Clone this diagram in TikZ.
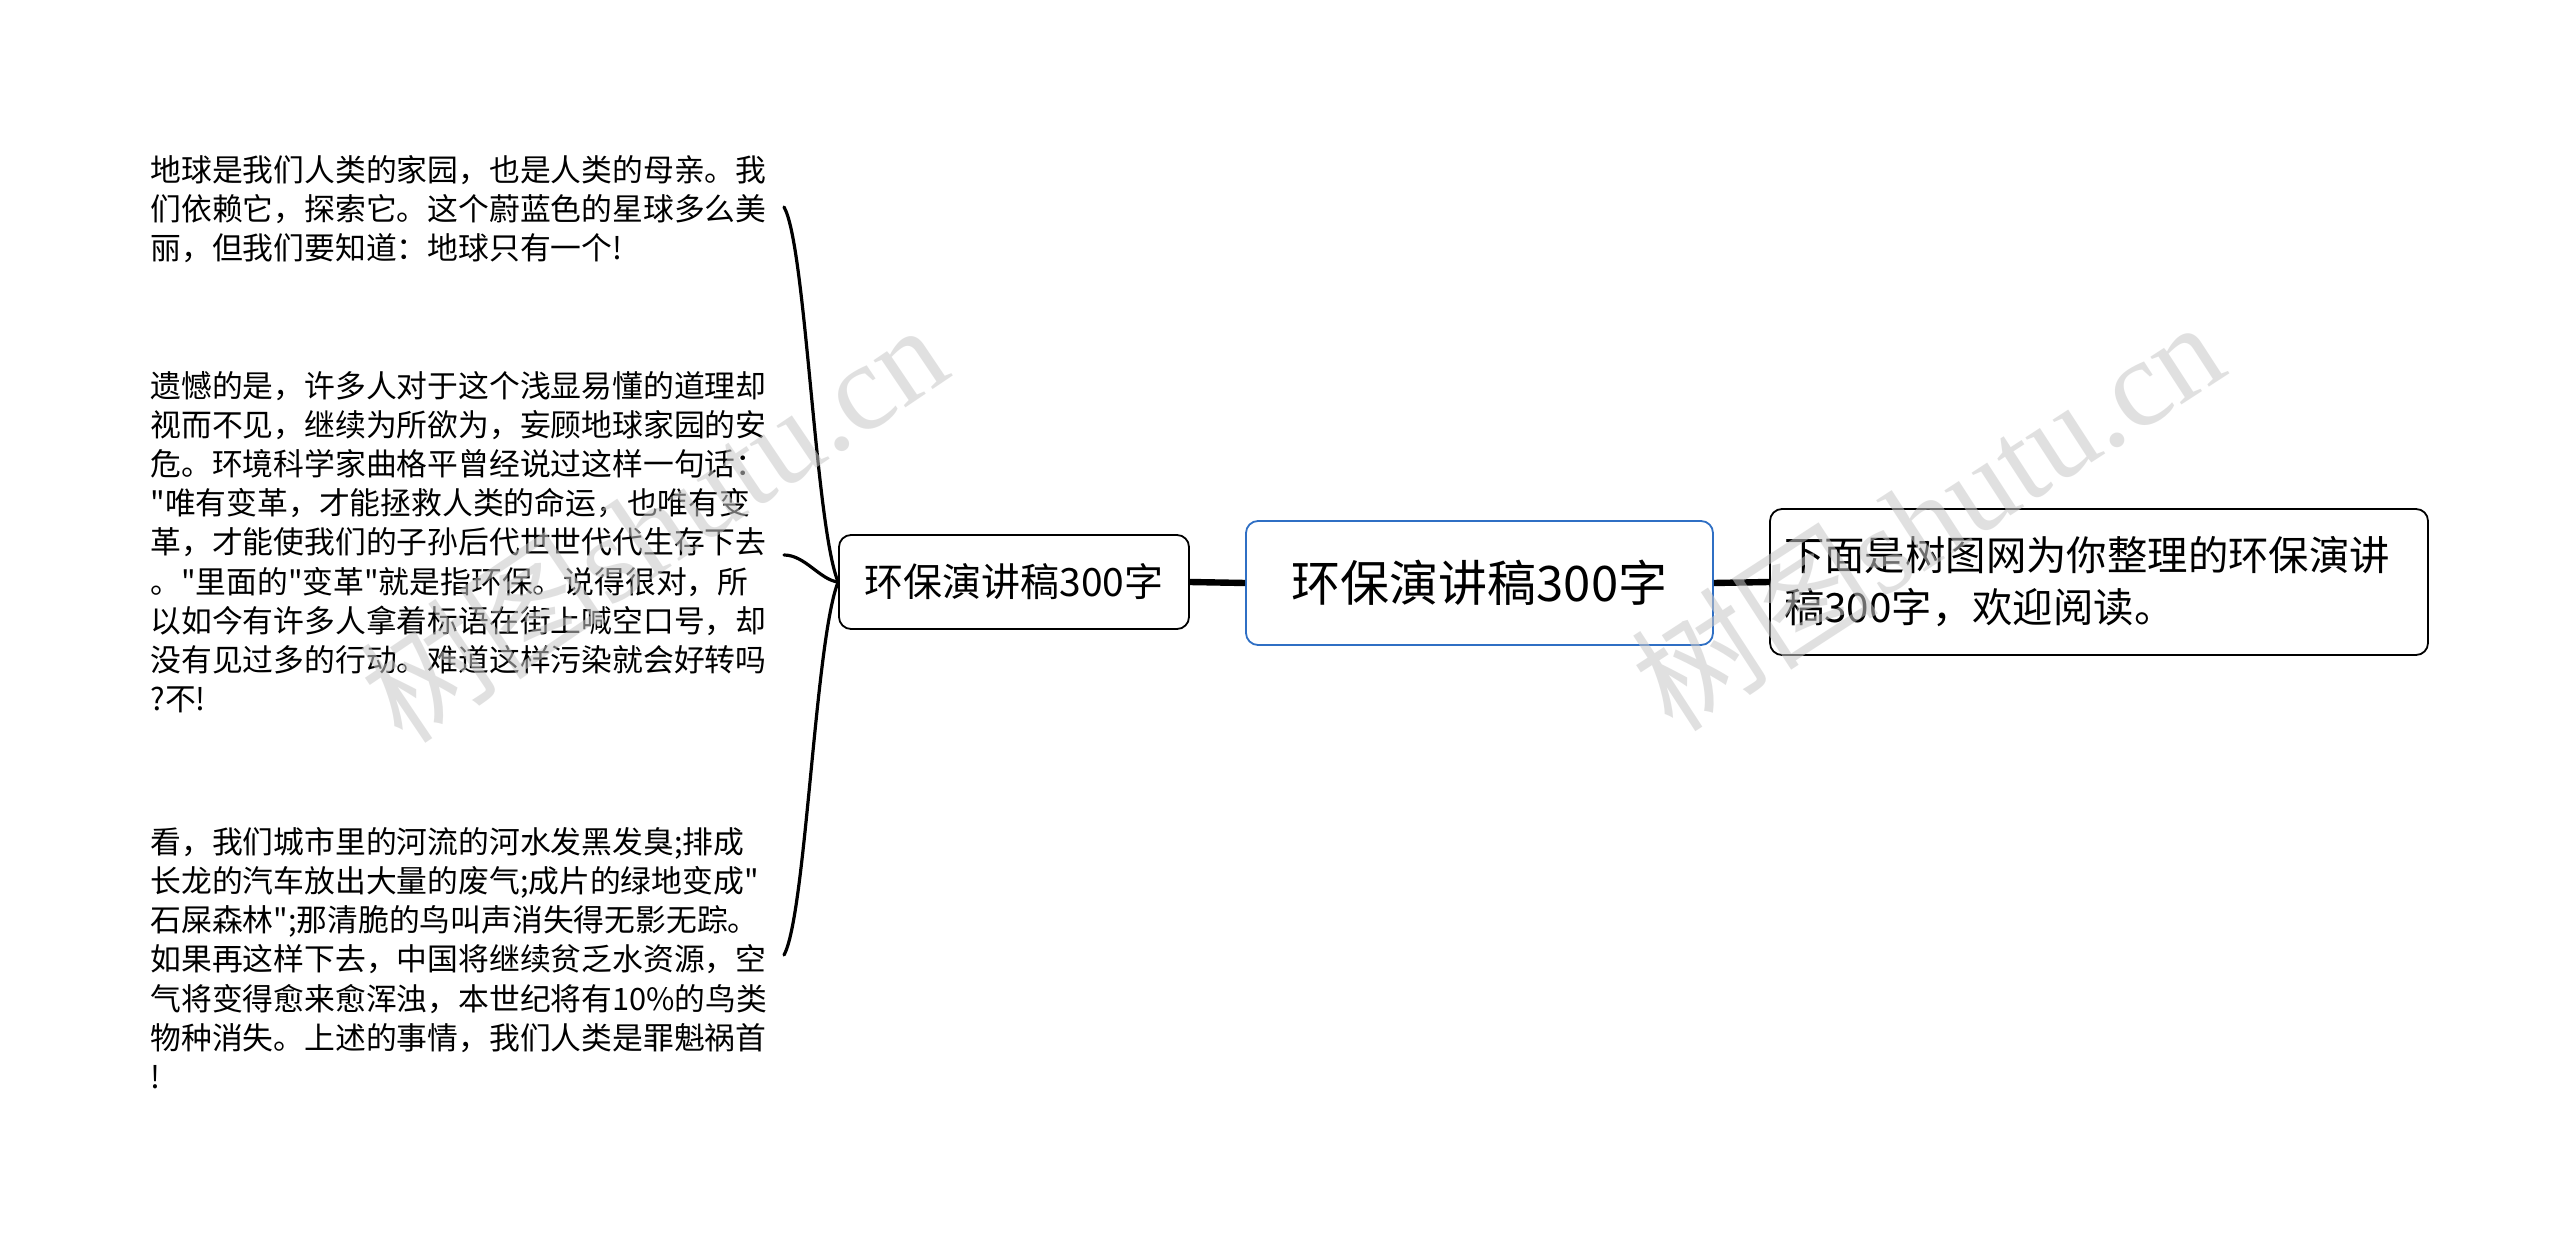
\documentclass[tikz,border=0pt]{standalone}
\usepackage{fontspec}
\setmainfont{Noto Sans CJK SC}[Ligatures=TeXOff]
\newfontfamily\wmlatin{Liberation Serif}
\definecolor{rootblue}{HTML}{2F6FC4}
\definecolor{wmgray}{HTML}{C8C8C8}
\begin{document}
\begin{tikzpicture}[x=0.5pt,y=-0.5pt,
  box/.style={draw, rounded corners=6pt, line width=0.9pt, fill=white, inner sep=0pt},
  txt/.style={anchor=west, align=left, inner sep=0pt, font=\fontsize{15.4pt}{19.6pt}\selectfont},
  branch/.style={line width=1.6pt, line cap=round},
  thickline/.style={line width=3.2pt},
  wm/.style={text=wmgray, opacity=0.55, font=\fontsize{62pt}{70pt}\selectfont}]
\useasboundingbox (0,0) rectangle (2560,1245);
\fill[white] (0,0) rectangle (2560,1245);

% nodes
\node[box, draw=rootblue, minimum width=233.5pt, minimum height=62pt,
      font=\fontsize{24.5pt}{28pt}\selectfont] (root) at (1479.5,583) {环保演讲稿300字};
\node[box, minimum width=175pt, minimum height=47pt,
      font=\fontsize{19.5pt}{22pt}\selectfont] (left) at (1014,582) {环保演讲稿300字};
\node[box, minimum width=329pt, minimum height=73pt, inner xsep=7pt,
      text width=315pt, align=left,
      font=\fontsize{20.2pt}{26pt}\selectfont] (right) at (2099,582)
      {下面是树图网为你整理的环保演讲\\稿300字，欢迎阅读。};

\node[txt] (t1) at (150,209) {地球是我们人类的家园，也是人类的母亲。我\\
们依赖它，探索它。这个蔚蓝色的星球多么美\\
丽，但我们要知道：地球只有一个!};

\node[txt] (t2) at (150,542) {遗憾的是，许多人对于这个浅显易懂的道理却\\
视而不见，继续为所欲为，妄顾地球家园的安\\
危。环境科学家曲格平曾经说过这样一句话：\\
"唯有变革，才能拯救人类的命运，也唯有变\\
革，才能使我们的子孙后代世世代代生存下去\\
。"里面的"变革"就是指环保。说得很对，所\\
以如今有许多人拿着标语在街上喊空口号，却\\
没有见过多的行动。难道这样污染就会好转吗\\
?不!};

\node[txt] (t3) at (150,958) {看，我们城市里的河流的河水发黑发臭;排成\\
长龙的汽车放出大量的废气;成片的绿地变成"\\
石屎森林";那清脆的鸟叫声消失得无影无踪。\\
如果再这样下去，中国将继续贫乏水资源，空\\
气将变得愈来愈浑浊，本世纪将有10\%的鸟类\\
物种消失。上述的事情，我们人类是罪魁祸首\\
!};

\coordinate (e1) at (784,207);
\coordinate (e2) at (784,555);
\coordinate (e3) at (784,955);

% connectors
\draw[thickline] (left.east) -- (root.west);
\draw[thickline] (root.east) -- (right.west);
\draw[branch] (left.west) .. controls (815,525) and (806,245) .. (e1);
\draw[branch] (left.west) .. controls (820,580) and (805,555) .. (e2);
\draw[branch] (left.west) .. controls (815,640) and (806,915) .. (e3);

% watermarks
\node[wm, rotate=34] at (653,522) {树图{\wmlatin shutu.cn}};
\node[wm, rotate=33] at (1927,514) {树图{\wmlatin shutu.cn}};
\end{tikzpicture}
\end{document}
